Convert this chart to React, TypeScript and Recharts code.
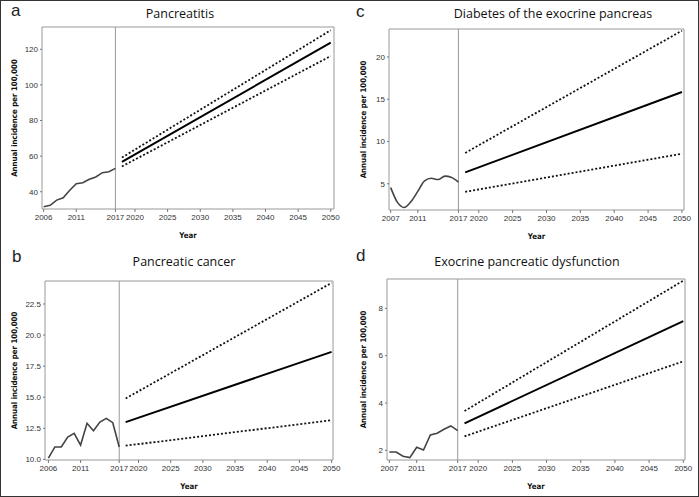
import React from 'react';
import {
  LineChart,
  Line,
  XAxis,
  YAxis,
  ReferenceLine,
  ReferenceArea,
} from 'recharts';

// forecast endpoints shared by all panels
const FORECAST_YEARS = [2018, 2050];

// a - Pancreatitis
const A_YEARS = [2006, 2007, 2008, 2009, 2010, 2011, 2012, 2013, 2014, 2015, 2016, 2017];
const A_HIST = [31.6, 32.4, 35.3, 36.6, 40.8, 44.5, 45.0, 47.0, 48.3, 50.7, 51.2, 53.1];
const A_MEAN = [56.8, 123.7];
const A_UPPER = [59.2, 130.7];
const A_LOWER = [54.2, 116.2];

// b - Pancreatic cancer
const B_YEARS = [2006, 2007, 2008, 2009, 2010, 2011, 2012, 2013, 2014, 2015, 2016, 2017];
const B_HIST = [10.1, 11.0, 11.0, 11.8, 12.1, 11.15, 12.9, 12.3, 13.0, 13.3, 12.95, 11.0];
const B_MEAN = [13.0, 18.65];
const B_UPPER = [14.9, 24.2];
const B_LOWER = [11.1, 13.15];

// c - Diabetes of the exocrine pancreas
const C_YEARS = [2007, 2008, 2009, 2010, 2011, 2012, 2013, 2014, 2015, 2016, 2017];
const C_HIST = [4.55, 2.8, 2.2, 2.9, 4.1, 5.35, 5.65, 5.5, 5.9, 5.75, 5.2];
const C_MEAN = [6.35, 15.85];
const C_UPPER = [8.65, 23.1];
const C_LOWER = [4.05, 8.55];

// d - Exocrine pancreatic dysfunction
const D_YEARS = [2007, 2008, 2009, 2010, 2011, 2012, 2013, 2014, 2015, 2016, 2017];
const D_HIST = [1.93, 1.93, 1.75, 1.69, 2.13, 2.01, 2.65, 2.72, 2.89, 3.03, 2.83];
const D_MEAN = [3.14, 7.46];
const D_UPPER = [3.66, 9.17];
const D_LOWER = [2.59, 5.76];

const X_TICKS_06 = [2006, 2011, 2017, 2020, 2025, 2030, 2035, 2040, 2045, 2050];
const X_TICKS_07 = [2007, 2011, 2017, 2020, 2025, 2030, 2035, 2040, 2045, 2050];

const buildRows = (years: number[], hist: number[], mean: number[], upper: number[], lower: number[]) => {
  const rows: any[] = years.map((y, i) => ({ year: y, hist: hist[i] }));
  FORECAST_YEARS.forEach((y, i) => rows.push({ year: y, mean: mean[i], upper: upper[i], lower: lower[i] }));
  return rows;
};

const tickFont = { fontSize: 8, fill: '#333', fontFamily: "'Liberation Sans', Arial, sans-serif" };
const labelFont = {
  fontSize: 7.8,
  fill: '#111',
  fontWeight: 'bold' as const,
  fontFamily: "'DejaVu Sans Condensed', 'Liberation Sans', sans-serif",
};

interface PanelProps {
  left: number;
  top: number;
  width: number;
  height: number;
  margin: { top: number; right: number; bottom: number; left: number };
  yWidth: number;
  xDomain: [number, number];
  yDomain: [number, number];
  xTicks: number[];
  yTicks: number[];
  yFmt?: (v: number) => string;
  rows: any[];
  smooth?: boolean;
  title: string;
  titleX: number;
  letter: string;
  letterX: number;
  letterY: number;
}

const Panel: React.FC<PanelProps> = (p) => (
  <div style={{ position: 'absolute', left: p.left, top: p.top, width: p.width, height: p.height }}>
    <LineChart width={p.width} height={p.height} data={p.rows} margin={p.margin}>
      <XAxis
        dataKey="year"
        type="number"
        domain={p.xDomain}
        allowDataOverflow
        ticks={p.xTicks}
        interval={0}
        axisLine={false}
        tickLine={{ stroke: '#777' }}
        tickSize={3}
        tickMargin={2}
        tick={tickFont}
        height={30}
        label={{ value: 'Year', position: 'insideBottom', offset: 1, style: labelFont }}
      />
      <YAxis
        type="number"
        domain={p.yDomain}
        allowDataOverflow
        ticks={p.yTicks}
        interval={0}
        tickFormatter={p.yFmt}
        axisLine={false}
        tickLine={{ stroke: '#777' }}
        tickSize={2}
        tickMargin={2}
        tick={tickFont}
        width={p.yWidth}
        label={{
          value: 'Annual incidence per 100,000',
          angle: -90,
          position: 'insideLeft',
          offset: 13,
          style: { ...labelFont, textAnchor: 'middle' },
        }}
      />
      <ReferenceArea
        x1={p.xDomain[0]}
        x2={p.xDomain[1]}
        y1={p.yDomain[0]}
        y2={p.yDomain[1]}
        fill="none"
        fillOpacity={0}
        stroke="#999"
        strokeWidth={1}
      />
      <ReferenceLine x={2017} stroke="#999" strokeWidth={1} />
      <Line
        dataKey="hist"
        type={p.smooth ? 'monotone' : 'linear'}
        stroke="#444"
        strokeWidth={1.6}
        dot={false}
        connectNulls={false}
        isAnimationActive={false}
      />
      <Line dataKey="mean" type="linear" stroke="#000" strokeWidth={2} dot={false} isAnimationActive={false} />
      <Line dataKey="upper" type="linear" stroke="#111" strokeWidth={1.8} strokeDasharray="2 2" dot={false} isAnimationActive={false} />
      <Line dataKey="lower" type="linear" stroke="#111" strokeWidth={1.8} strokeDasharray="2 2" dot={false} isAnimationActive={false} />
    </LineChart>
    <div
      style={{
        position: 'absolute',
        left: p.titleX,
        top: 4,
        transform: 'translateX(-50%)',
        whiteSpace: 'nowrap',
        fontFamily: "'Open Sans', sans-serif",
        fontSize: 12.5,
        color: '#111',
      }}
    >
      {p.title}
    </div>
    <div
      style={{
        position: 'absolute',
        left: p.letterX,
        top: p.letterY,
        fontFamily: "'Liberation Sans', Arial, sans-serif",
        fontSize: 17,
        color: '#222',
      }}
    >
      {p.letter}
    </div>
  </div>
);

const oneDp = (v: number) => v.toFixed(1);

export default function App() {
  return (
    <div
      style={{
        position: 'relative',
        width: 699,
        height: 497,
        border: '1px solid #333',
        boxSizing: 'border-box',
        background: '#fff',
        overflow: 'hidden',
      }}
    >
      <style>{'body{margin:0}'}</style>
      <Panel
        left={0}
        top={0}
        width={349}
        height={248}
        margin={{ top: 26, right: 16, bottom: 10, left: 0 }}
        yWidth={41}
        xDomain={[2005.75, 2050.5]}
        yDomain={[30.3, 132.5]}
        xTicks={X_TICKS_06}
        yTicks={[40, 60, 80, 100, 120]}
        rows={buildRows(A_YEARS, A_HIST, A_MEAN, A_UPPER, A_LOWER)}
        title="Pancreatitis"
        titleX={179}
        letter="a"
        letterX={10}
        letterY={0}
      />
      <Panel
        left={0}
        top={248}
        width={349}
        height={249}
        margin={{ top: 32, right: 17, bottom: 8, left: 0 }}
        yWidth={44}
        xDomain={[2005.47, 2050.22]}
        yDomain={[9.95, 24.35]}
        xTicks={X_TICKS_06}
        yTicks={[10, 12.5, 15, 17.5, 20, 22.5]}
        yFmt={oneDp}
        rows={buildRows(B_YEARS, B_HIST, B_MEAN, B_UPPER, B_LOWER)}
        title="Pancreatic cancer"
        titleX={183}
        letter="b"
        letterX={11}
        letterY={-2}
      />
      <Panel
        left={349}
        top={0}
        width={350}
        height={248}
        margin={{ top: 28, right: 16, bottom: 9, left: 0 }}
        yWidth={39}
        xDomain={[2006.75, 2050.3]}
        yDomain={[1.9, 23.3]}
        xTicks={X_TICKS_07}
        yTicks={[5, 10, 15, 20]}
        rows={buildRows(C_YEARS, C_HIST, C_MEAN, C_UPPER, C_LOWER)}
        smooth
        title="Diabetes of the exocrine pancreas"
        titleX={203}
        letter="c"
        letterX={6}
        letterY={1}
      />
      <Panel
        left={349}
        top={248}
        width={350}
        height={249}
        margin={{ top: 30, right: 15, bottom: 8, left: 0 }}
        yWidth={37}
        xDomain={[2006.66, 2050.25]}
        yDomain={[1.59, 9.24]}
        xTicks={X_TICKS_07}
        yTicks={[2, 4, 6, 8]}
        rows={buildRows(D_YEARS, D_HIST, D_MEAN, D_UPPER, D_LOWER)}
        title="Exocrine pancreatic dysfunction"
        titleX={177}
        letter="d"
        letterX={6}
        letterY={-3}
      />
    </div>
  );
}
